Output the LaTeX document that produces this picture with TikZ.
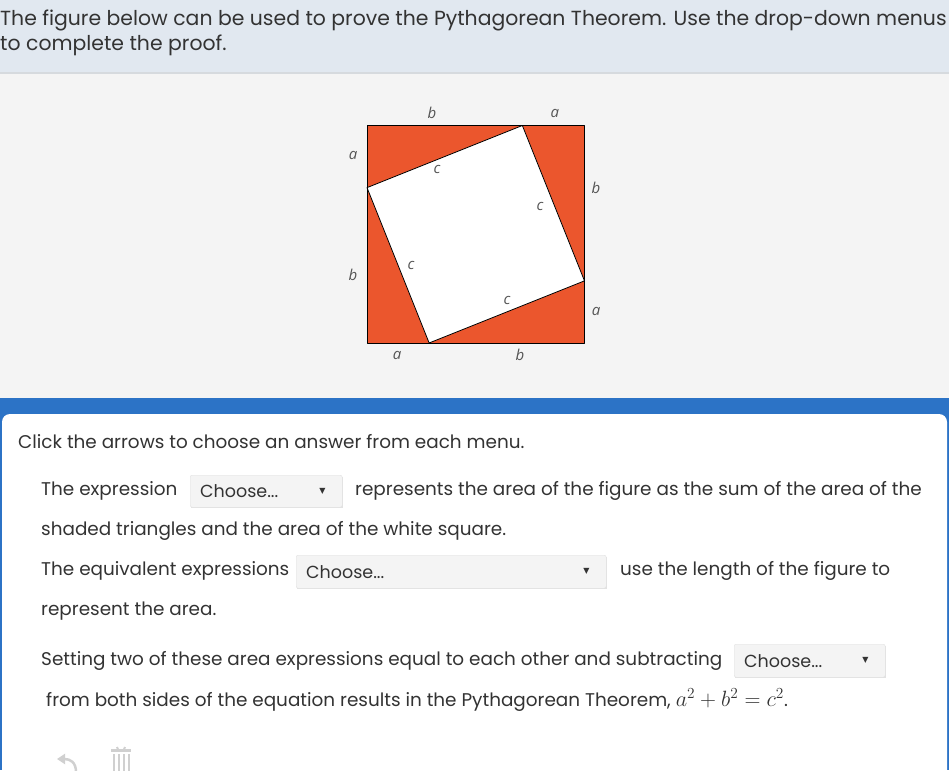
\documentclass[tikz,border=0pt]{standalone}
\usepackage{fontspec}
\usepackage{tkz-euclide}
\setmainfont{Poppins}
\newfontfamily\labelfont{Open Sans}
\newfontfamily\symbfont{DejaVu Sans}
\tikzset{>=stealth}
\definecolor{headbg}{RGB}{225,232,240}
\definecolor{rulegray}{RGB}{214,218,222}
\definecolor{panelbg}{RGB}{244,244,244}
\definecolor{blueband}{RGB}{44,115,198}
\definecolor{textgray}{RGB}{51,51,51}
\definecolor{lblgray}{RGB}{85,85,85}
\definecolor{triorange}{RGB}{235,86,45}
\definecolor{menufill}{RGB}{244,244,244}
\definecolor{menuline}{RGB}{226,226,226}
\definecolor{icongray}{RGB}{208,208,208}

\begin{document}
\begin{tikzpicture}[x=1pt, y=-1pt,
    txt/.style={anchor=west, inner sep=0pt, text=textgray, font=\fontsize{18.4}{22}\selectfont},
    headtxt/.style={anchor=west, inner sep=0pt, text=textgray, font=\fontsize{20.4}{24}\selectfont},
    menu/.style={draw=menuline, fill=menufill, rounded corners=2pt, anchor=north west,
        minimum height=32pt, inner sep=0pt},
    lbl/.style={text=lblgray, inner sep=0pt, font=\labelfont\itshape\fontsize{15}{18}\selectfont}]
    \useasboundingbox (0,0) rectangle (949,770);
    \clip (0,0) rectangle (949,770);
    % page background
    \fill[headbg] (0,0) rectangle (949,72);
    \fill[rulegray] (0,72) rectangle (949,74);
    \fill[panelbg] (0,74) rectangle (949,398);
    \fill[blueband] (0,398) rectangle (949,770);
    \fill[white, rounded corners=8pt] (2,800) -- (2,414) -- (947,414) -- (947,800) -- cycle;
    % question
    \node[headtxt] (qone) at (0,20) {The figure below can be used to prove the Pythagorean Theorem. Use the drop-down menus};
    \node[headtxt] (qtwo) at (0,45) {to complete the proof.};
    % the figure
    \begin{scope}[shift={(367,343)}, x=31.07pt, y=31.07pt]
        \tkzDefPoints{0/0/A, 7/0/B, 7/7/C, 0/7/D, 2/0/P, 7/2/Q, 5/7/R, 0/5/S}
        \tkzFillPolygon[color=triorange](A,B,C,D)
        \tkzFillPolygon[color=white](P,Q,R,S)
        \tkzDrawPolygon[line width=1pt](A,B,C,D)
        \tkzDrawPolygon[line width=0.8pt](P,Q,R,S)
        \node[lbl] (btop) at (2.09,7.40) {b};
        \node[lbl] (atop) at (6.05,7.40) {a};
        \node[lbl] (aleft) at (-0.45,6.05) {a};
        \node[lbl] (bleft) at (-0.45,2.19) {b};
        \node[lbl] (bright) at (7.37,4.99) {b};
        \node[lbl] (aright) at (7.37,1.03) {a};
        \node[lbl] (abot) at (0.97,-0.39) {a};
        \node[lbl] (bbot) at (4.92,-0.39) {b};
        \node[lbl] (ctop) at (2.25,5.57) {c};
        \node[lbl] (cright) at (5.57,4.38) {c};
        \node[lbl] (cleft) at (1.42,2.48) {c};
        \node[lbl] (cbot) at (4.51,1.38) {c};
    \end{scope}
    % answer card
    \node[txt] (hint) at (18,442) {Click the arrows to choose an answer from each menu.};
    \node[txt] (lineone) at (41,491) {The expression};
    \fill[menuline] (191,477) rectangle (343,508);
    \node[menu, minimum width=152pt] (menuone) at (190,475) {};
    \node[txt] (lineoneb) at (355,491) {represents the area of the figure as the sum of the area of the};
    \node[txt] (linetwo) at (41,531) {shaded triangles and the area of the white square.};
    \node[txt] (linethree) at (41,571) {The equivalent expressions};
    \fill[menuline] (297,557) rectangle (607,589);
    \node[menu, minimum width=310pt, minimum height=33pt] (menutwo) at (296,555) {};
    \node[txt] (linethreeb) at (620,571) {use the length of the figure to};
    \node[txt] (linefour) at (41,611) {represent the area.};
    \node[txt] (linefive) at (41,661) {Setting two of these area expressions equal to each other and subtracting};
    \fill[menuline] (735,646) rectangle (886,678);
    \node[menu, minimum width=151pt, minimum height=33pt] (menuthree) at (734,644) {};
    \node[txt] (linesix) at (46,700) {from both sides of the equation results in the Pythagorean Theorem,
        \scalebox{1.28}{$a^2+b^2=c^2$}.};
    % menu texts
    \foreach \m in {menuone, menutwo, menuthree} {
        \node[txt, font=\fontsize{17.5}{20}\selectfont] at ([xshift=10pt]\m.west) {Choose...};
        \node[inner sep=0pt, text=textgray, font=\symbfont\fontsize{8}{10}\selectfont]
            at ([xshift=-20pt]\m.east) {▼};
    }
    % undo and delete icons
    \draw[icongray, line width=2.5pt, ->, >={Triangle[length=8pt, width=10pt]}]
        (76,772) .. controls (76,762) and (70,759) .. (57,759);
    \draw[icongray, line width=2pt] (117,747) arc (180:0:4);
    \fill[icongray] (111,749) rectangle (131,752);
    \foreach \x in {113,118,123,128} {
        \fill[icongray] (\x,754) rectangle (\x+2,772);
    }
\end{tikzpicture}
\end{document}
